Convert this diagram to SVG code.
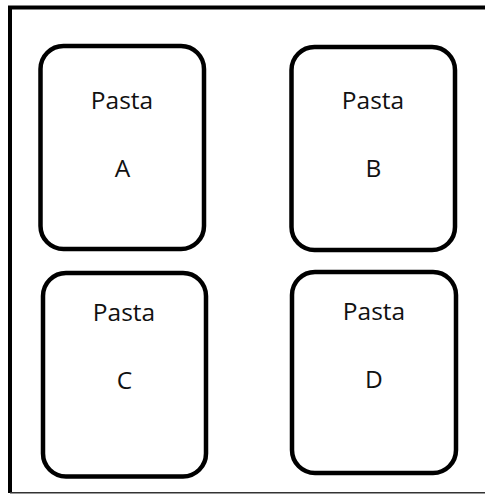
<svg xmlns="http://www.w3.org/2000/svg" width="485" height="495" viewBox="0 0 485 495">
<style>
.box{fill:#fff;stroke:#000;stroke-width:4.5}
.t{font-family:"Open Sans","Liberation Sans",sans-serif;font-size:24.5px;fill:#111;text-anchor:middle}
</style>
<rect x="0" y="0" width="485" height="495" fill="#fff"/>
<g id="frame" fill="none" stroke="#000">
<path d="M10 493 V7.5 H490" stroke-width="4"/>
<path d="M10 492.8 H490" stroke-width="1.6" stroke="#333"/>
</g>
<g id="A">
<rect class="box" x="40.5" y="46" width="163.5" height="203" rx="23" ry="23"/>
<text class="t" x="122" y="109.3">Pasta</text>
<text class="t" x="122.5" y="176.7">A</text>
</g>
<g id="B">
<rect class="box" x="291.5" y="47" width="163.5" height="203" rx="23" ry="23"/>
<text class="t" x="373" y="109.3">Pasta</text>
<text class="t" x="373.3" y="176.7">B</text>
</g>
<g id="C">
<rect class="box" x="43" y="273" width="163" height="203.5" rx="23" ry="23"/>
<text class="t" x="124" y="320.7">Pasta</text>
<text class="t" x="124.5" y="389">C</text>
</g>
<g id="D">
<rect class="box" x="292" y="272" width="164" height="201" rx="23" ry="23"/>
<text class="t" x="374" y="320">Pasta</text>
<text class="t" x="374" y="388.3">D</text>
</g>
<g id="connectors"></g>
</svg>
